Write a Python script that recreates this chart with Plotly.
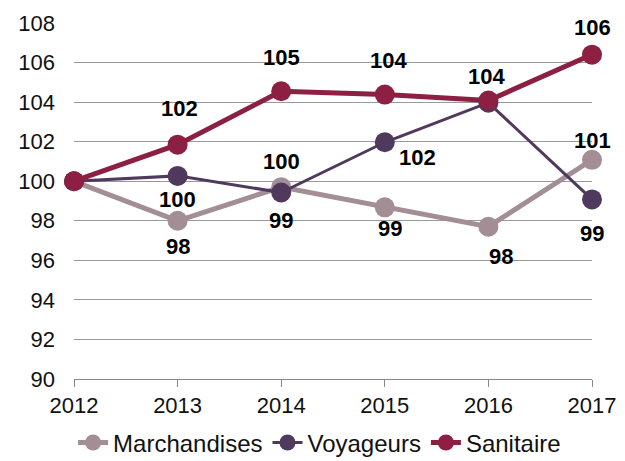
import plotly.graph_objects as go

years = [2012, 2013, 2014, 2015, 2016, 2017]
marchandises = [100, 98.0, 99.7, 98.68, 97.7, 101.08]
voyageurs = [100, 100.27, 99.43, 101.97, 103.97, 99.08]
sanitaire = [100, 101.85, 104.55, 104.38, 104.08, 106.4]
y_ticks = [90, 92, 94, 96, 98, 100, 102, 104, 106, 108]

series = [
    ("Marchandises", marchandises, "#A38E96", 5),
    ("Voyageurs", voyageurs, "#4F3A5D", 3),
    ("Sanitaire", sanitaire, "#8C1F42", 5),
]

# label offsets in px (xshift, yshift); None = no label
label_offsets = {
    "Marchandises": [None, (0, -26), (0, 26), (5, -21), (13, -30), (0, 19)],
    "Voyageurs": [None, (0, -24), (0, -28), (33, -15), None, (0, -34)],
    "Sanitaire": [None, (2, 36), (0, 34), (4, 34), (-2, 24), (0, 27)],
}

fig = go.Figure()
annotations = []
for name, vals, color, lw in series:
    fig.add_trace(go.Scatter(
        x=years, y=vals, name=name, mode="lines+markers",
        line=dict(color=color, width=lw),
        marker=dict(color=color, size=20),
        cliponaxis=False,
    ))
    for x, v, off in zip(years, vals, label_offsets[name]):
        if off is None:
            continue
        annotations.append(dict(
            x=x, y=v, text=f"<b>{round(v)}</b>", showarrow=False,
            xshift=off[0], yshift=off[1],
            font=dict(family="Liberation Sans, Arial", size=22, color="#000000"),
        ))

fig.update_layout(
    width=617, height=453,
    margin=dict(l=66, r=33, t=15, b=82, autoexpand=False),
    paper_bgcolor="white", plot_bgcolor="white",
    font=dict(family="Liberation Sans, Arial", size=22, color="#111111"),
    showlegend=True,
    legend=dict(orientation="h", xref="container", x=0.505, xanchor="center",
                yref="container", y=0.04, yanchor="middle",
                font=dict(size=24, color="#111111"), itemwidth=30,
                tracegroupgap=0, bgcolor="rgba(0,0,0,0)"),
    annotations=annotations,
)
fig.update_xaxes(
    range=[2012, 2017], tickvals=years, ticktext=[str(y) for y in years],
    showgrid=False, showline=True, linecolor="#888888", linewidth=1,
    ticks="outside", ticklen=7, tickcolor="#888888", zeroline=False,
)
fig.update_yaxes(
    range=[90, 108], tickvals=y_ticks, showgrid=True, gridcolor="#999999", gridwidth=1,
    showline=False, zeroline=False, ticks="", ticklabelstandoff=18,
)
fig.write_html("out.html")
